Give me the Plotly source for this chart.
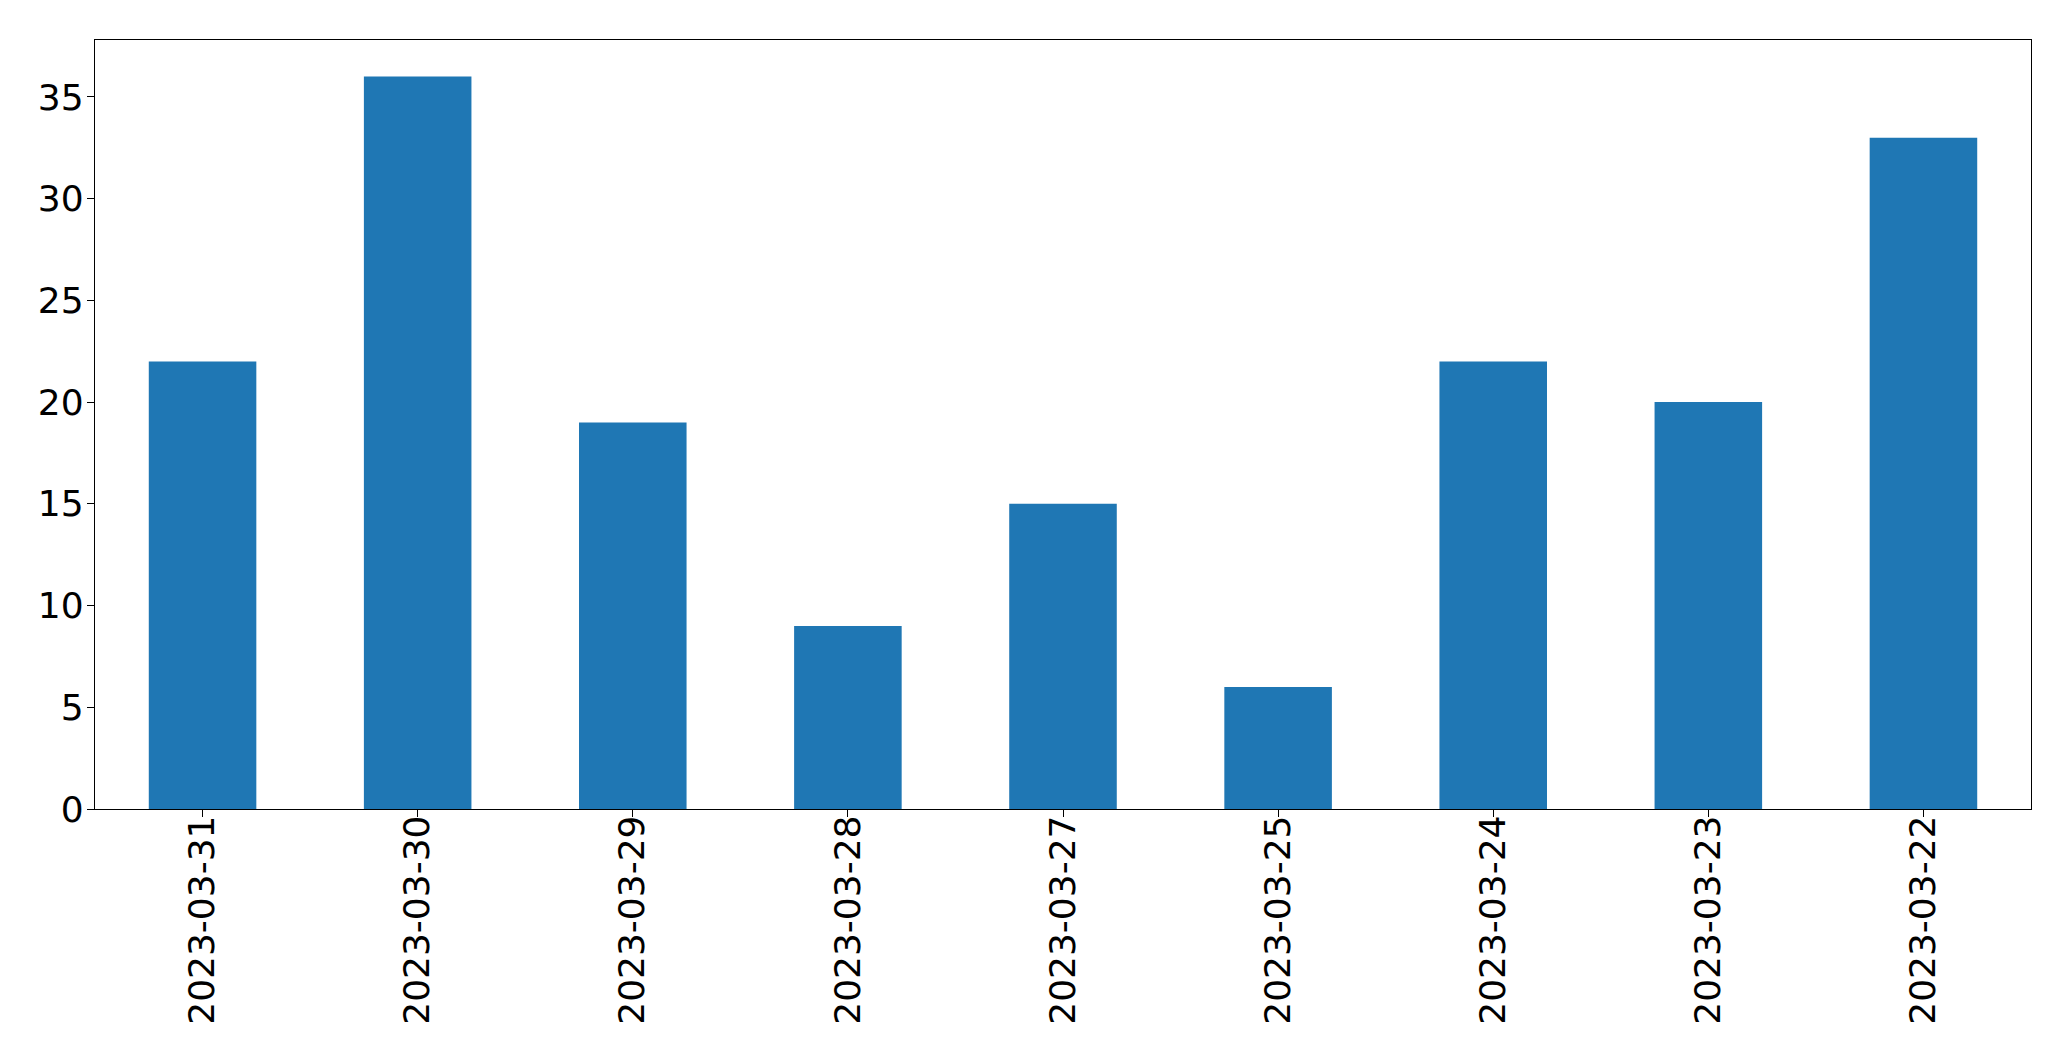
import plotly.graph_objects as go

dates = ["2023-03-31", "2023-03-30", "2023-03-29", "2023-03-28", "2023-03-27",
         "2023-03-25", "2023-03-24", "2023-03-23", "2023-03-22"]
counts = [22, 36, 19, 9, 15, 6, 22, 20, 33]
y_ticks = [0, 5, 10, 15, 20, 25, 30, 35]

fig = go.Figure(go.Bar(x=dates, y=counts, marker=dict(color="#1f77b4", line=dict(width=0))))

axis_common = dict(showline=True, linecolor="black", linewidth=1.3, mirror=True,
                   ticks="outside", ticklen=7, tickwidth=1.3, tickcolor="black",
                   showgrid=False, zeroline=False,
                   tickfont=dict(family="DejaVu Sans", size=36, color="black"))

fig.update_layout(
    width=2055, height=1045,
    margin=dict(l=87, r=32, t=32, b=244),
    plot_bgcolor="white", paper_bgcolor="white",
    bargap=0.5, showlegend=False,
    xaxis=dict(type="category", range=[-0.5, 8.5], tickangle=-90,
               ticklabelstandoff=-16, **axis_common),
    yaxis=dict(range=[0, 37.8], tickvals=y_ticks, ticklabelstandoff=-4, **axis_common),
)

fig.write_html("out.html")
